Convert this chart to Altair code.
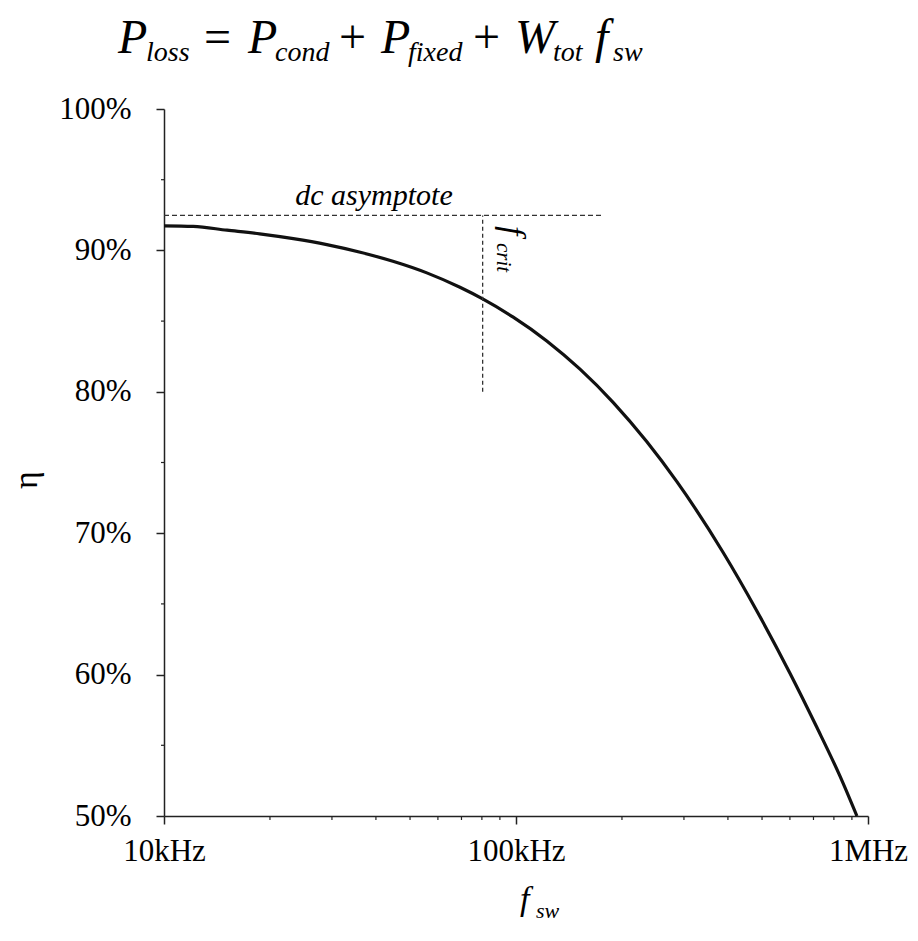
import altair as alt
import pandas as pd

# ---- data ----
freq_khz = [10, 12.1, 15.1, 18.7, 23.3, 29.0, 36.1, 44.7, 55.8, 69.3, 80.4, 98.2,
            122.3, 152.0, 189.0, 235.1, 286.1, 388.1, 482.9, 600.2, 715.0, 832.6, 930]
eta_pct = [91.74, 91.70, 91.43, 91.17, 90.83, 90.41, 89.87, 89.23, 88.41, 87.39, 86.57, 85.28,
           83.60, 81.60, 79.24, 76.48, 73.66, 68.62, 64.52, 60.10, 56.29, 52.82, 50.0]

dc_asymptote_pct = [92.47]
asym_span_khz = [10, 175]
f_crit_khz = [80.4]
f_crit_span_pct = [80, 92.47]

x_ticks = [10, 100, 1000]
x_minor = [20, 30, 40, 50, 60, 70, 80, 90, 200, 300, 400, 500, 600, 700, 800, 900]
y_ticks = [50, 60, 70, 80, 90, 100]
y_minor = [55, 65, 75, 85, 95]

W, H = 704, 707
FONT = "Liberation Serif, Times New Roman, DejaVu Serif, serif"
INK = "#111111"
AX = "#222222"

xscale = alt.Scale(type="log", domain=[10, 1000])
yscale = alt.Scale(domain=[50, 100])

x_axis = alt.Axis(
    values=x_ticks,
    labelExpr="datum.value >= 1000 ? format(datum.value/1000, 'd') + 'MHz' : format(datum.value, 'd') + 'kHz'",
    title=None, grid=False, tickSize=8, tickWidth=1.5, tickColor=AX,
    domainColor=AX, domainWidth=1.5, labelFont=FONT, labelFontSize=31,
    labelColor="black", labelPadding=12, labelFlush=False, labelOverlap=False)
y_axis = alt.Axis(
    values=y_ticks, labelExpr="datum.value + '%'",
    title=None, grid=False, tickSize=8, tickWidth=1.5, tickColor=AX,
    domainColor=AX, domainWidth=1.5, labelFont=FONT, labelFontSize=31,
    labelColor="black", labelPadding=25, labelBaseline="middle", labelOverlap=False)

curve = alt.Chart(pd.DataFrame({"f": freq_khz, "eta": eta_pct})).mark_line(
    color=INK, strokeWidth=3.2, interpolate="monotone"
).encode(
    x=alt.X("f:Q", scale=xscale, axis=x_axis),
    y=alt.Y("eta:Q", scale=yscale, axis=y_axis),
)

asym = alt.Chart(pd.DataFrame({"f": [asym_span_khz[0]], "f2": [asym_span_khz[1]],
                               "eta": dc_asymptote_pct})).mark_rule(
    color="#333333", strokeWidth=1.3, strokeDash=[5, 3]
).encode(x=alt.X("f:Q", scale=xscale, axis=x_axis), x2="f2:Q",
         y=alt.Y("eta:Q", scale=yscale, axis=y_axis))

fcrit = alt.Chart(pd.DataFrame({"f": f_crit_khz, "eta": [f_crit_span_pct[0]],
                                "eta2": [f_crit_span_pct[1]]})).mark_rule(
    color="#333333", strokeWidth=1.3, strokeDash=[4, 3]
).encode(x=alt.X("f:Q", scale=xscale, axis=x_axis),
         y=alt.Y("eta:Q", scale=yscale, axis=y_axis), y2="eta2:Q")

xminor = alt.Chart(pd.DataFrame({"f": x_minor})).mark_rule(color=AX, strokeWidth=1.2).encode(
    x=alt.X("f:Q", scale=xscale, axis=x_axis), y=alt.value(H), y2=alt.value(H + 4))

yminor = alt.Chart(pd.DataFrame({"eta": y_minor})).mark_rule(color=AX, strokeWidth=1.2).encode(
    y=alt.Y("eta:Q", scale=yscale, axis=y_axis), x=alt.value(-3), x2=alt.value(0))


def txt(s, x, y, size, italic=True, angle=0, align="left", baseline="alphabetic"):
    kw = dict(font=FONT, fontSize=size, color="black", align=align, baseline=baseline)
    if italic:
        kw["fontStyle"] = "italic"
    if angle:
        kw["angle"] = angle
    return alt.Chart(pd.DataFrame({"t": [s]})).mark_text(**kw).encode(
        x=alt.value(x), y=alt.value(y), text="t:N")


X0 = 164  # page x of the plot's left edge
labels = [
    txt("dc asymptote", 210, 96, 30, align="center"),
    txt("f", 338, 117, 34, angle=90),
    txt("crit", 333, 134, 21, angle=90),
    # x-axis title f_sw
    txt("f", 356, 801, 34),
    txt("sw", 372, 809, 22),
    # y-axis title
    txt("η", -137, 371, 34, italic=False, angle=270, align="center", baseline="middle"),
]

# formula title: P_loss = P_cond + P_fixed + W_tot f_sw
TB, SB = -56, -48
M, S = 48, 28
title_parts = [
    txt("P", 118 - X0, TB, M), txt("loss", 146 - X0, SB, S),
    txt("=", 204 - X0, TB, M, italic=False),
    txt("P", 248 - X0, TB, M), txt("cond", 275 - X0, SB, S),
    txt("+", 339 - X0, TB, M, italic=False),
    txt("P", 381 - X0, TB, M), txt("fixed", 408 - X0, SB, S),
    txt("+", 473 - X0, TB, M, italic=False),
    txt("W", 515 - X0, TB, M), txt("tot", 553 - X0, SB, S),
    txt("f", 595 - X0, TB, M), txt("sw", 613 - X0, SB, S),
]

chart = alt.layer(curve, asym, fcrit, xminor, yminor, *labels, *title_parts).properties(
    width=W, height=H,
    autosize=alt.AutoSizeParams(type="none"),
    padding={"left": 156, "top": 101, "right": 42, "bottom": 117},
    background="white",
).configure_view(stroke=None)

chart.save("out.html", embed_options={"renderer": "svg", "actions": False})
